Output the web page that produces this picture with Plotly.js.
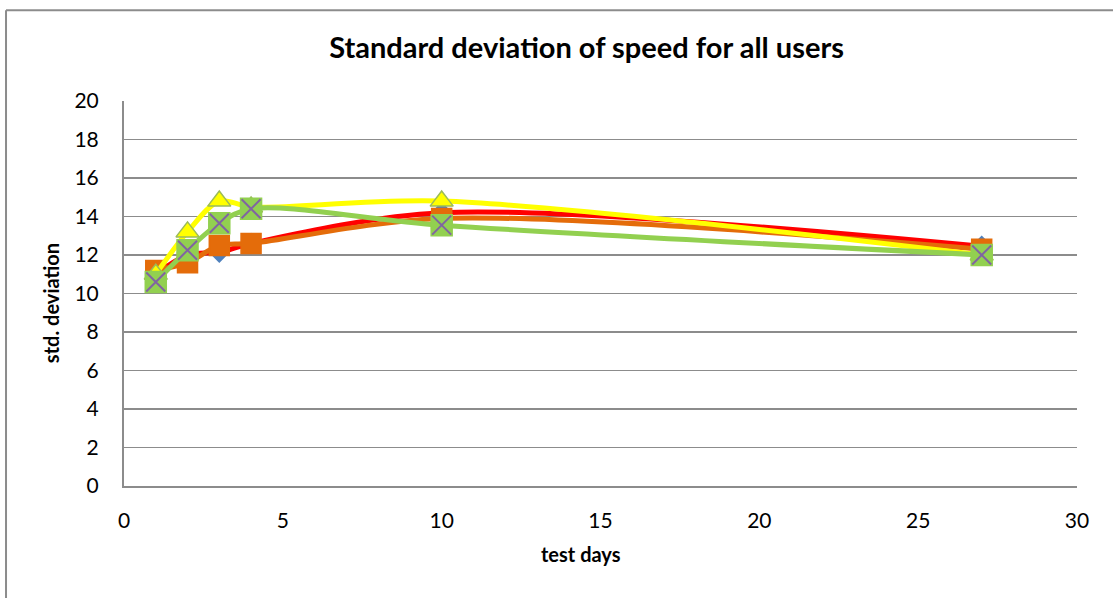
<!DOCTYPE html>
<html>
<head>
<meta charset="utf-8">
<script src="https://cdn.plot.ly/plotly-3.0.1.min.js"></script>
<style>
  body { margin: 0; background: #fff; }
  #grafico { width: 1113px; height: 598px; }
</style>
</head>
<body>
<div id="grafico"></div>
<script>
// dias de prueba
const testDays = [1, 2, 3, 4, 10, 27]

// desviacion estandar por serie
const serie1 = [11.0, 12.0, 12.15, 12.6, 14.2, 12.45]
const serie2 = [11.2, 11.6, 12.5, 12.6, 13.9, 12.3]
const serie3 = [11.0, 13.2, 14.8, 14.5, 14.8, 12.0]
const serie4 = [10.6, 12.25, 13.65, 14.4, 13.55, 12.0]

const yTicks = [0, 2, 4, 6, 8, 10, 12, 14, 16, 18, 20]
const xTicks = [0, 5, 10, 15, 20, 25, 30]

const grafico = document.getElementById('grafico')

function linea(y, color, symbol, mColor, mLine, size) {
    return {
        x: testDays,
        y: y,
        mode: 'lines+markers',
        type: 'scatter',
        line: { color: color, width: 5, shape: 'spline', smoothing: 0.9 },
        marker: { symbol: symbol, size: size, color: mColor, line: { color: mLine, width: 1.5 } },
        cliponaxis: false,
        showlegend: false
    }
}

const trazas = [
    linea(serie1, '#ff0000', 'diamond', '#4f81bd', '#4f81bd', 15),
    linea(serie2, '#e46c0a', 'square', '#e46c0a', '#e46c0a', 20),
    linea(serie3, '#ffff00', 'triangle-up', '#ffff00', '#9bbb59', 20),
    linea(serie4, '#92d050', 'square', '#92d050', '#92d050', 21),
    // la cruz morada encima del cuadro verde
    {
        x: testDays,
        y: serie4,
        mode: 'markers',
        type: 'scatter',
        marker: { symbol: 'x-thin', size: 19, line: { color: '#8064a2', width: 2 } },
        cliponaxis: false,
        showlegend: false
    }
]

const gris = '#8c8c8c'

const layout = {
    width: 1113,
    height: 598,
    margin: { l: 124, r: 36, t: 101, b: 112 },
    paper_bgcolor: '#fff',
    plot_bgcolor: '#fff',
    font: { family: 'Lato, "Open Sans", sans-serif', color: '#000' },
    title: {
        text: '<b>Standard deviation of speed for all users</b>',
        font: { size: 29, family: 'Lato, "Open Sans", sans-serif' },
        x: 0.527, xanchor: 'center',
        y: 0.92, yanchor: 'middle'
    },
    xaxis: {
        range: [0, 30],
        tickvals: xTicks,
        showgrid: false,
        zeroline: false,
        showline: true,
        linecolor: gris,
        linewidth: 2,
        ticks: '',
        ticklen: 0,
        ticklabelstandoff: 15,
        tickfont: { size: 21 }
    },
    yaxis: {
        range: [0, 20],
        tickvals: yTicks,
        showgrid: true,
        gridcolor: gris,
        gridwidth: 1.5,
        zeroline: false,
        showline: true,
        linecolor: gris,
        linewidth: 2,
        ticks: '',
        ticklabelstandoff: 19,
        tickfont: { size: 21 }
    },
    // titulos de los ejes, puestos donde los deja Excel
    annotations: [
        { text: '<b>test days</b>', xref: 'paper', yref: 'paper', x: 0.4795, y: -0.1766,
          xanchor: 'center', yanchor: 'middle', showarrow: false, font: { size: 20 } },
        { text: '<b>std. deviation</b>', xref: 'paper', yref: 'paper', x: -0.0766, y: 0.475,
          xanchor: 'center', yanchor: 'middle', textangle: -90, showarrow: false, font: { size: 20 } }
    ],
    shapes: [
        // marco exterior del grafico
        { type: 'line', xref: 'paper', yref: 'paper', x0: -0.1238, x1: -0.1238, y0: 1.236, y1: -0.3, line: { color: gris, width: 2 } },
        { type: 'line', xref: 'paper', yref: 'paper', x0: -0.1238, x1: 1.04, y0: 1.236, y1: 1.236, line: { color: gris, width: 2 } }
    ]
}

Plotly.newPlot(grafico, trazas, layout, { staticPlot: true })
</script>
</body>
</html>
